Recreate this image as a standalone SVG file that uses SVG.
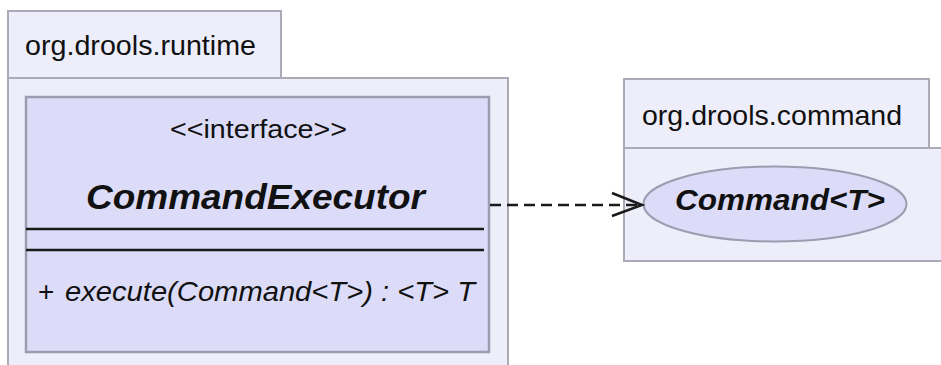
<svg xmlns="http://www.w3.org/2000/svg" width="941" height="365" viewBox="0 0 941 365">
<style>
.pkg{fill:#EEEEFB;stroke:#ABABB8;stroke-width:2}
.cls{fill:#DCDCF8;stroke:#9C9CB0;stroke-width:2.5}
.sep{stroke:#1A1A1A;stroke-width:2.5}
.t{font-family:"Liberation Sans",Arial,sans-serif;fill:#111}
.edge{fill:none;stroke:#1A1A1A;stroke-width:2.5}
</style>
<rect width="941" height="365" fill="#FFFFFF"/>
<g id="pkg-runtime">
<rect class="pkg" x="8" y="11" width="273" height="67"/>
<rect class="pkg" x="8" y="78" width="500" height="300"/>
<text class="t" x="25" y="55" font-size="28" textLength="231" lengthAdjust="spacingAndGlyphs">org.drools.runtime</text>
</g>
<g id="pkg-command">
<rect class="pkg" x="624" y="79" width="305" height="69"/>
<rect class="pkg" x="624" y="148" width="330" height="113"/>
<text class="t" x="642" y="125" font-size="28" textLength="260" lengthAdjust="spacingAndGlyphs">org.drools.command</text>
</g>
<g id="CommandExecutor">
<rect class="cls" x="26" y="97" width="463" height="255"/>
<text class="t" x="170" y="138" font-size="26" textLength="177" lengthAdjust="spacingAndGlyphs">&lt;&lt;interface&gt;&gt;</text>
<text class="t" x="86" y="209" font-size="35" font-weight="bold" font-style="italic" textLength="339" lengthAdjust="spacingAndGlyphs">CommandExecutor</text>
<line class="sep" x1="26" y1="229" x2="484" y2="229"/>
<line class="sep" x1="26" y1="250" x2="484" y2="250"/>
<text class="t" x="38" y="301" font-size="28">+</text>
<text class="t" x="65" y="301" font-size="28" font-style="italic" textLength="410" lengthAdjust="spacingAndGlyphs">execute(Command&lt;T&gt;) : &lt;T&gt; T</text>
</g>
<g id="Command">
<ellipse cx="775" cy="204" rx="131.5" ry="37.5" fill="#DCDCF8" stroke="#9C9CB0" stroke-width="2"/>
<text class="t" x="675" y="210" font-size="30" font-weight="bold" font-style="italic" textLength="210" lengthAdjust="spacingAndGlyphs">Command&lt;T&gt;</text>
</g>
<g id="connectors">
<line class="edge" x1="490" y1="205" x2="640" y2="205" stroke-dasharray="11 6"/>
<polyline class="edge" points="612,193 642,205 612,216"/>
</g>
</svg>
